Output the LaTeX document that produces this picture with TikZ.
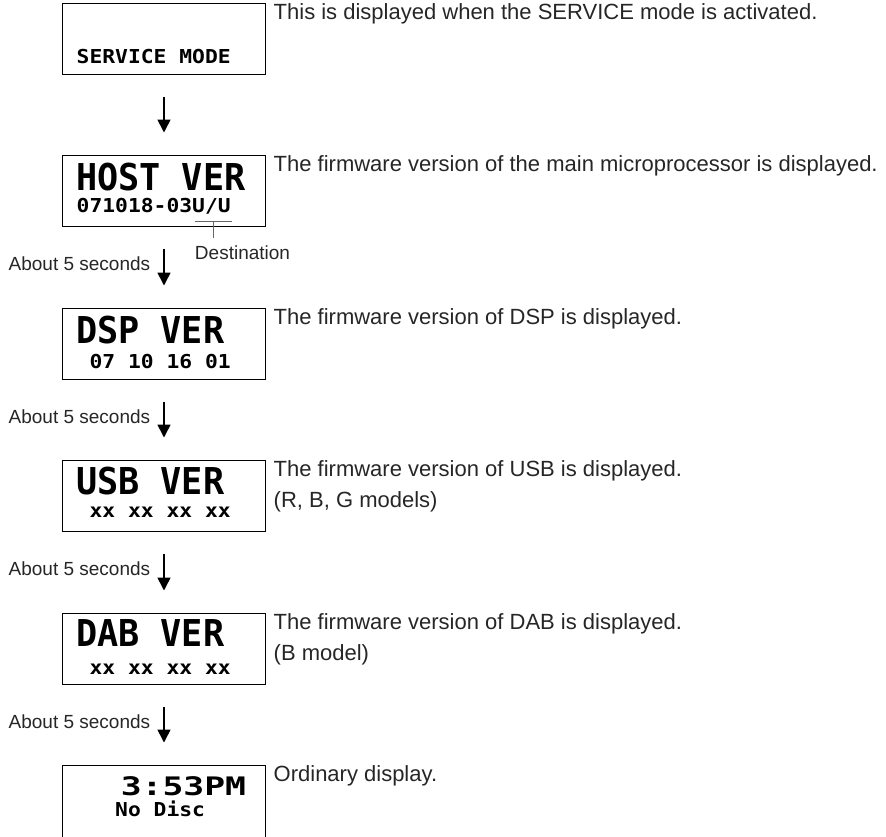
\documentclass[tikz,border=0pt]{standalone}
\usepackage{fontspec}
\usepackage{tikz}
\usetikzlibrary{arrows.meta}
\setmainfont{Liberation Sans}
\newfontfamily\lcdfont{DejaVu Sans Mono}

\begin{document}
\begin{tikzpicture}[x=1pt,y=-1pt]
	\clip (0,0) rectangle (886,836);
	\tikzstyle{lcdbox}=[draw, line width=1pt, minimum width=203.5pt, minimum height=71pt, inner sep=0pt]
	\tikzstyle{lcdbig}=[anchor=base west, inner sep=0pt, xscale=0.95, font=\lcdfont\bfseries\fontsize{37}{37}\selectfont]
	\tikzstyle{lcdmid}=[anchor=base west, inner sep=0pt, xscale=1.36, font=\lcdfont\bfseries\fontsize{25.5}{25}\selectfont]
	\tikzstyle{lcdsmall}=[anchor=base west, inner sep=0pt, xscale=1.11, font=\lcdfont\bfseries\fontsize{19.2}{19}\selectfont]
	\tikzstyle{info}=[anchor=base west, inner sep=0pt, text=black!85, font=\fontsize{22}{31}\selectfont]
	\tikzstyle{note}=[inner sep=0pt, text=black!85, font=\fontsize{19}{19}\selectfont]
	\tikzstyle{waitarrow}=[line width=1.6pt, -{Triangle[length=13pt,width=13pt]}, shorten <=22pt, shorten >=22pt]
	% displays
	\node[lcdbox] (svc) at (164,38.5) {};
	\node[lcdbox] (host) at (164,190.5) {};
	\node[lcdbox] (dsp) at (164,343.5) {};
	\node[lcdbox] (usb) at (164,495.5) {};
	\node[lcdbox] (dab) at (164,648.5) {};
	\node[lcdbox, minimum height=80pt] (clock) at (164,805) {};
	% display texts
	\node[lcdsmall] (svcline) at (76.5,63) {SERVICE MODE};
	\node[lcdbig] (hostname) at (76,190) {HOST VER};
	\node[lcdsmall] (hostline) at (76.5,212.5) {071018-03U/U};
	\node[lcdbig] (dspname) at (76,343) {DSP VER};
	\node[lcdsmall] (dspline) at (89.4,368.3) {07 10 16 01};
	\node[lcdbig] (usbname) at (76,494) {USB VER};
	\node[lcdsmall] (usbline) at (89.4,517) {xx xx xx xx};
	\node[lcdbig] (dabname) at (76,646.7) {DAB VER};
	\node[lcdsmall] (dabline) at (89.4,674) {xx xx xx xx};
	\node[lcdmid] (clocktime) at (120.5,795) {3:53PM};
	\node[lcdsmall] (clockline) at (115,816.7) {No Disc};
	% destination mark
	\coordinate (dst) at (213.5,221);
	\draw[black!60, line width=1pt] (195,221) -- (232,221);
	\node[note, anchor=base] (dest) at (242.5,259) {Destination};
	\draw[black!60, line width=1pt, shorten >=7pt] (dst) -- (dst |- dest.north);
	% descriptions
	\node[info] (svcinfo) at (273.5,19.5) {This is displayed when the SERVICE mode is activated.};
	\node[info] (hostinfo) at (273.5,171.5) {The firmware version of the main microprocessor is displayed.};
	\node[info] (dspinfo) at (273.5,324.5) {The firmware version of DSP is displayed.};
	\node[info] (usbinfo) at (273.5,476.5) {The firmware version of USB is displayed.};
	\node[info] (usbmodels) at (273.5,507.5) {(R, B, G models)};
	\node[info] (dabinfo) at (273.5,629.5) {The firmware version of DAB is displayed.};
	\node[info] (dabmodels) at (273.5,660.5) {(B model)};
	\node[info] (clockinfo) at (273.5,781.5) {Ordinary display.};
	% arrows
	\draw[waitarrow] (svc) -- (host);
	\draw[waitarrow] (host) -- node[note, anchor=base east, xshift=-13pt, yshift=-3.5pt] (wait1) {About 5 seconds} (dsp);
	\draw[waitarrow] (dsp) -- node[note, anchor=base east, xshift=-13pt, yshift=-3.5pt] (wait2) {About 5 seconds} (usb);
	\draw[waitarrow] (usb) -- node[note, anchor=base east, xshift=-13pt, yshift=-3.5pt] (wait3) {About 5 seconds} (dab);
	\draw[waitarrow] (dab) -- node[note, anchor=base east, xshift=-13pt, yshift=-3.5pt] (wait4) {About 5 seconds} (clock);
\end{tikzpicture}
\end{document}
